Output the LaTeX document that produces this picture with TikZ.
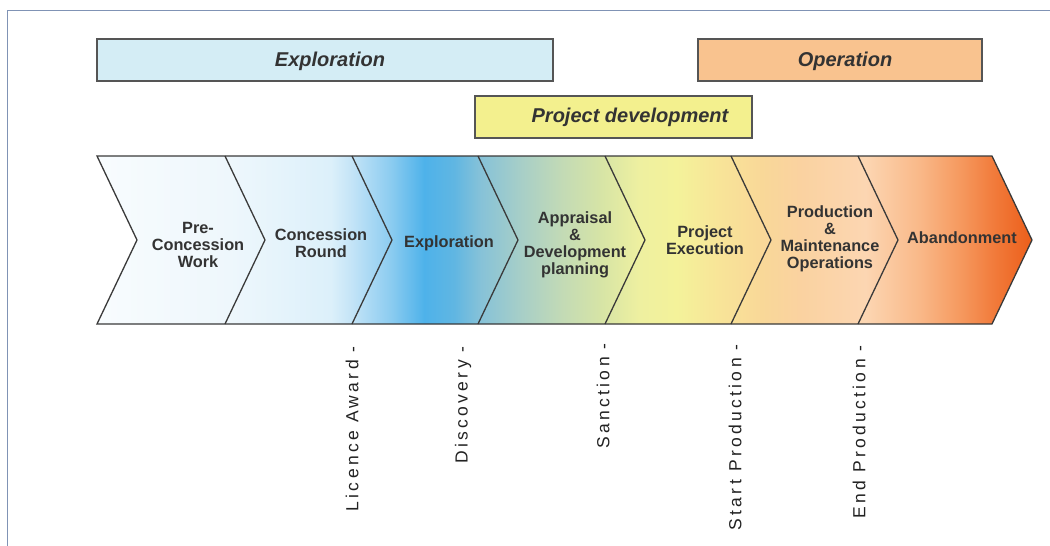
\documentclass[tikz,border=0pt]{standalone}
\usepackage{fontspec}
\setmainfont{Liberation Sans}
\newfontfamily\spacedfont[LetterSpace=19]{Liberation Sans}
\usetikzlibrary{positioning}

\definecolor{framecol}{HTML}{8093B5}
\definecolor{barline}{HTML}{555555}
\definecolor{chevline}{HTML}{3A3A3A}
\definecolor{explfill}{HTML}{D4EDF5}
\definecolor{opfill}{HTML}{F9C38F}
\definecolor{devfill}{HTML}{F3F08E}
\definecolor{txt}{HTML}{333333}
\definecolor{mtxt}{HTML}{222222}
% colours along the life cycle, left to right
\definecolor{g01}{HTML}{F8FCFE}
\definecolor{g02}{HTML}{EEF7FC}
\definecolor{g03}{HTML}{DCF0FA}
\definecolor{g04}{HTML}{C4E4F7}
\definecolor{g05}{HTML}{8CCCF0}
\definecolor{g06}{HTML}{4EB2EA}
\definecolor{g07}{HTML}{60B6E2}
\definecolor{g08}{HTML}{86C2D8}
\definecolor{g09}{HTML}{A6CEC8}
\definecolor{g10}{HTML}{C2DAB6}
\definecolor{g11}{HTML}{D6E4A6}
\definecolor{g12}{HTML}{EEF0A0}
\definecolor{g13}{HTML}{F4F29A}
\definecolor{g14}{HTML}{F8E498}
\definecolor{g15}{HTML}{F9D898}
\definecolor{g16}{HTML}{FAD2A0}
\definecolor{g17}{HTML}{FCD6B2}
\definecolor{g18}{HTML}{F9B888}
\definecolor{g19}{HTML}{F69A60}
\definecolor{g20}{HTML}{F17A3A}
\definecolor{g21}{HTML}{EC5E1A}
\pgfdeclarehorizontalshading{lifecycle}{100bp}{%
color(0bp)=(g01); color(25bp)=(g01); color(32.1bp)=(g02); color(37.5bp)=(g03);%
color(38.6bp)=(g04); color(40.7bp)=(g05); color(42.5bp)=(g06); color(44.1bp)=(g07);%
color(45.5bp)=(g08); color(47.6bp)=(g09); color(49.8bp)=(g10); color(51.9bp)=(g11);%
color(54bp)=(g12); color(56bp)=(g13); color(58.3bp)=(g14); color(60.5bp)=(g15);%
color(62.6bp)=(g16); color(66.1bp)=(g17); color(69bp)=(g18); color(71.1bp)=(g19);%
color(73bp)=(g20); color(75bp)=(g21); color(100bp)=(g21)}

\tikzset{
  phasebar/.style={draw=barline, line width=1.4pt, minimum height=42pt, inner sep=0pt},
  phasetext/.style={font=\bfseries\itshape\fontsize{20}{24}\selectfont, text=txt},
  stage/.style={align=center, inner sep=0pt, text=txt, font=\bfseries\fontsize{16.3}{17}\selectfont},
  milestone/.style={rotate=90, anchor=east, inner sep=0pt, text=mtxt, font=\spacedfont\fontsize{17.5}{20}\selectfont},
  chevron/.style={draw=chevline, line width=1.3pt, line join=miter}
}

\begin{document}
\begin{tikzpicture}[x=1pt, y=-1pt]
\useasboundingbox (0,0) rectangle (1050,546);
\draw[framecol, line width=1.5pt] (7.5,546) -- (7.5,10.5) -- (1050,10.5);

% phases
\node[phasebar, fill=explfill, minimum width=456pt] (explbar) at (325,60) {};
\node[phasebar, fill=opfill, minimum width=284pt] (opbar) at (840,60) {};
\node[phasebar, fill=devfill, minimum width=277pt] (devbar) at (613.5,117) {};
\node[phasetext] (expltext) at (330,61) {Exploration};
\node[phasetext] (optext) at (845,61) {Operation};
\node[phasetext] (devtext) at (630,117) {Project development};

% life cycle arrow
\shade[shading=lifecycle] (97,156) -- (992,156) -- (1032,240) -- (992,324) -- (97,324) -- (137,240) -- cycle;
\draw[chevron] (97,156) -- (992,156) -- (1032,240) -- (992,324) -- (97,324) -- (137,240) -- cycle;
\foreach \x in {225,352,478,605,731,858}
  \draw[chevron] (\x,156) -- (\x+40,240) -- (\x,324);

\node[stage] (precon) at (198,245) {Pre-\\Concession\\Work};
\node[stage] (conround) at (321,243) {Concession\\Round};
\node[stage] (explor) at (449,243) {Exploration};
\node[stage] (apprais) at (575,245) {Appraisal\\\&\\Development\\planning};
\node[stage] (projexec) at (705,240) {Project\\Execution};
\node[stage] (prodops) at (830,239) {Production\\\&\\Maintenance\\Operations};
\node[stage] (abandon) at (962,238) {Abandonment};

% milestones
\node[milestone] (licence) at (352,346) {Licence Award -};
\node[milestone] (discov) at (463,346) {Discovery -};
\node[milestone] (sanct) at (603,343) {Sanction -};
\node[milestone] (startprod) at (735,344) {Start Production -};
\node[milestone] (endprod) at (859,345) {End Production -};

\end{tikzpicture}
\end{document}
